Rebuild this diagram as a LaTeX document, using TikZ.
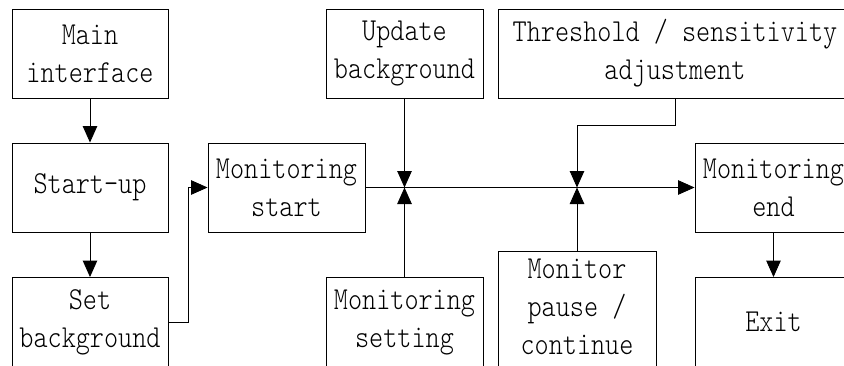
\documentclass[tikz,border=0pt]{standalone}
\usepackage{fontspec}
\newfontfamily\boxfont{lmmonolt10-regular.otf}[FakeStretch=0.84]
\usetikzlibrary{arrows.meta}

\begin{document}
\begin{tikzpicture}[x=1pt,y=-1pt,
  box/.style={draw, line width=0.9pt, minimum width=157pt, minimum height=89pt,
    inner sep=0pt, align=center, font=\boxfont\fontsize{32}{38}\selectfont},
  label text/.style={inner sep=0pt, align=center, font=\boxfont\fontsize{32}{38}\selectfont},
  link/.style={line width=0.9pt, -{Triangle[length=16.5pt,width=14.5pt]}}]
\useasboundingbox (0,0) rectangle (844,365);
\clip (0,0) rectangle (844,365);

% left column
\node[box, minimum width=156pt] (main)  at (90,53.5)  {Main\\interface};
\node[box, minimum width=156pt] (start) at (90,187.5) {Start-up};
\node[box, minimum width=156pt] (setbg) at (90,322)   {Set\\background};

% centre
\node[box] (mstart) at (286.5,187.5) {Monitoring\\start};
\node[box] (upd)    at (404.5,53.5)  {Update\\background};
\node[box] (mset)   at (404.5,322)   {Monitoring\\setting};
\node[box, minimum width=354pt] (thr) at (675,53.5) {Threshold / sensitivity\\adjustment};
\node[draw, line width=0.9pt, minimum width=158pt, minimum height=124pt, inner sep=0pt] (pause) at (577,313) {};
\node[label text] (pausetxt) at (577,307) {Monitor\\pause /\\continue};

% right column
\node[box] (mend) at (773.5,187.5) {Monitoring\\end};
\node[box] (exit) at (773.5,322)   {Exit};

% junctions on the main line
\coordinate (j1) at (404.5,187.5);
\coordinate (j2) at (577,187.5);

\draw[link] (main) -- (start);
\draw[link] (start) -- (setbg);
\draw[link] (setbg.east) -- ([xshift=20pt]setbg.east) |- (mstart.west);
\draw[link] (mstart.east) -- (mend.west);
\draw[link] (upd) -- (j1);
\draw[link] (mset) -- (j1);
\draw[link] (thr.south) -- ++(0,27) -| (j2);
\draw[link] (pause) -- (j2);
\draw[link] (mend) -- (exit);
\end{tikzpicture}
\end{document}
